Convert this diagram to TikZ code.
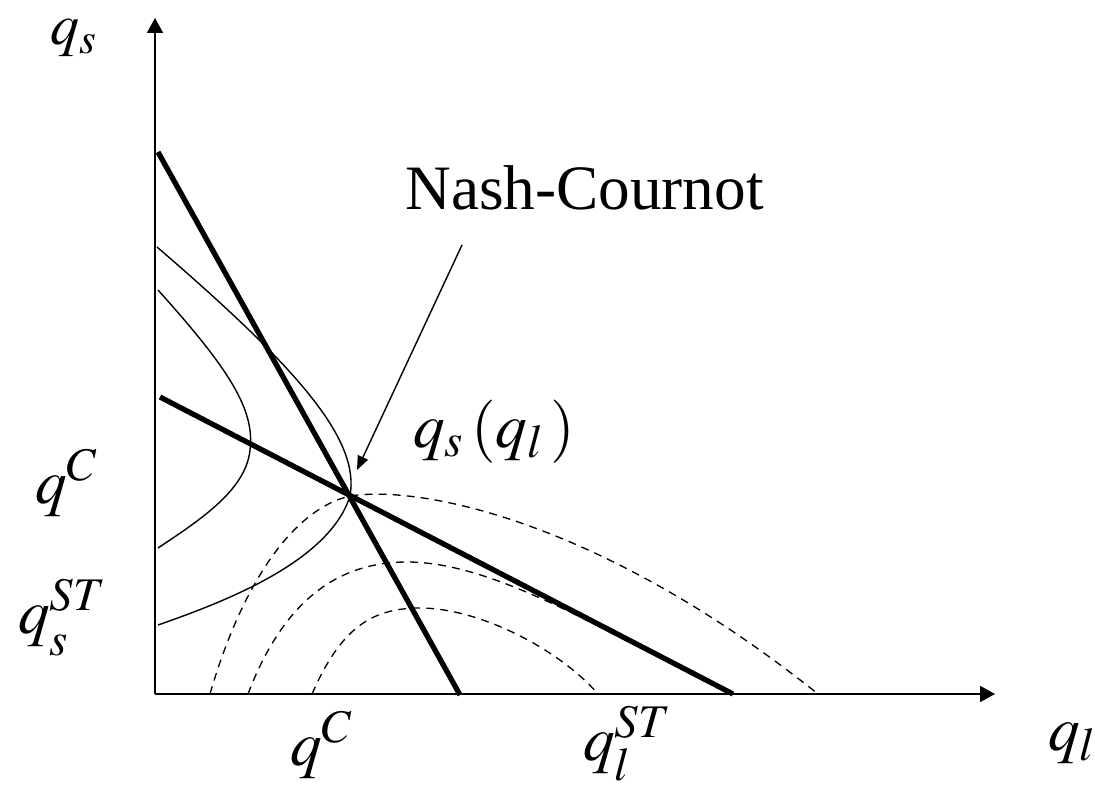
\documentclass[tikz,border=0pt]{standalone}
\usepackage{mathptmx}
\usepackage[no-math]{fontspec}
\setmainfont{Liberation Serif}
\usetikzlibrary{arrows.meta}

\begin{document}
\begin{tikzpicture}[x=0.02cm,y=-0.02cm,
    axis/.style={line width=1pt,-{Triangle[length=0.3cm,width=0.32cm]}},
    reac/.style={line width=3pt},
    iso/.style={line width=0.8pt},
    isol/.style={line width=0.75pt,dash pattern=on 4.5pt off 3.5pt},
    ptr/.style={line width=0.8pt,-{Triangle[length=0.28cm,width=0.22cm]}},
    lbl/.style={font=\fontsize{36}{40}\selectfont,inner sep=0pt,anchor=base west}]
  \useasboundingbox (0,0) rectangle (1095,790);
  % axes
  \coordinate (o) at (155,694);
  \coordinate (ytop) at (155,18);
  \coordinate (xend) at (995,694);
  \draw[axis] (o) -- (ytop);
  \draw[axis] (o) -- (xend);
  % reaction lines
  \coordinate (steeptop) at (158,152);
  \coordinate (steepbot) at (460,695);
  \coordinate (flattop) at (160,397);
  \coordinate (flatbot) at (733,694);
  \coordinate (nc) at (350,496);
  \draw[reac] (steeptop) -- (steepbot);
  \draw[reac] (flattop) -- (flatbot);
  % isoprofit curves of s
  \draw[iso] (157,247) .. controls (300,370) and (360,440) .. (nc)
    .. controls (330,560) and (230,600) .. (158,625);
  \draw[iso] (158,290) .. controls (230,370) and (255,410) .. (250,450)
    .. controls (246,490) and (200,520) .. (158,548);
  % isoprofit curves of l
  \draw[isol] (210,694) .. controls (240,590) and (290,510) .. (nc)
    .. controls (420,485) and (600,520) .. (818,694);
  \draw[isol] (248,694) .. controls (280,610) and (330,562) .. (407,562)
    .. controls (470,562) and (545,598) .. (625,640) -- (flatbot);
  \draw[isol] (312,694) .. controls (340,630) and (370,608) .. (420,608)
    .. controls (480,608) and (560,650) .. (598,694);
  % labels
  \node[lbl,font=\fontsize{33}{36}\selectfont] (qsax) at (50,45) {$q_s$};
  \node[lbl] (qlax) at (1048,750) {$q_l$};
  \node[lbl] (qcy) at (35,503) {$q^C$};
  \node[lbl] (qsst) at (18,633) {$q^{ST}_{\smash{\lower4pt\hbox{$\scriptstyle s$}}}$};
  \node[lbl] (qcx) at (290,765) {$q^C$};
  \node[lbl] (qlst) at (583,760) {$q_l^{ST}$};
  \node[lbl] (reacl) at (413,447) {$q_s\,(q_l\,)$};
  \node[lbl] (nash) at (405,210) {Nash-Cournot};
  \coordinate (ptrstart) at (462,245);
  \coordinate (ptrend) at (357,470);
  \draw[ptr] (ptrstart) -- (ptrend);
\end{tikzpicture}
\end{document}
